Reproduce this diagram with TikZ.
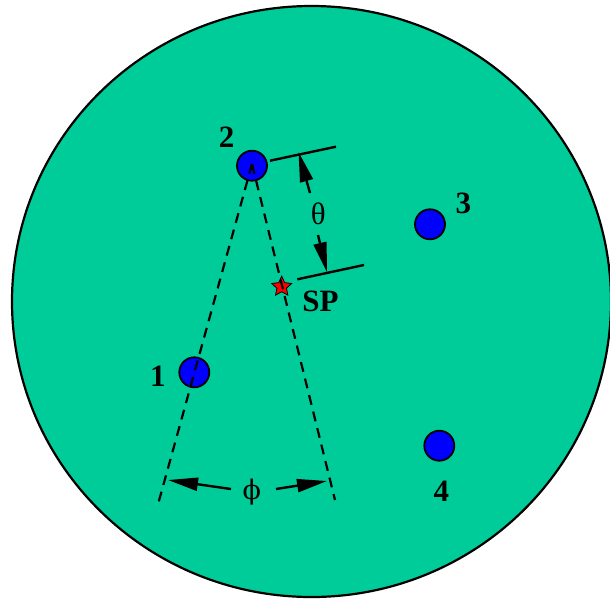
\documentclass[tikz,border=0pt]{standalone}
\usepackage{fontspec}
\setmainfont{Liberation Serif}
\newfontfamily\dvserif{DejaVu Serif}
\usetikzlibrary{arrows.meta,shapes.geometric}
\definecolor{sea}{HTML}{00CC99}
\begin{document}
\begin{tikzpicture}[x=1pt,y=-1pt,
  site/.style={circle,draw=black,fill=blue,minimum size=30pt,inner sep=0pt,line width=1.8pt},
  lbl/.style={inner sep=0pt,font=\fontsize{31}{31}\selectfont\bfseries},
  greek/.style={inner sep=0pt,font=\fontsize{31}{31}\selectfont},
  dashline/.style={line width=2.2pt,dash pattern=on 10pt off 7pt},
  dimline/.style={line width=2.4pt},
  dimarrow/.style={line width=2.4pt,-{Triangle[length=30pt,width=13pt]}}]
\useasboundingbox (0,0) rectangle (610,598);
\clip (0,0) rectangle (610,598);
\filldraw[fill=sea,draw=black,line width=2.2pt] (311.5,301.5) ellipse [x radius=299.5pt, y radius=295.5pt];
% sites
\node[site] (n1) at (194.3,372.3) {};
\node[site] (n2) at (252,165.7) {};
\node[site] (n3) at (430,224.3) {};
\node[site] (n4) at (439.3,445.7) {};
\node[star,star points=5,star point ratio=2.1,fill=red,draw=black,line width=0.8pt,minimum size=21pt,inner sep=0pt] (sp) at (281.7,286.7) {};
% labels
\node[lbl] (l1) at (157.8,376.3) {1};
\node[lbl] (l2) at (226.7,137.3) {2};
\node[lbl] (l3) at (463.3,203) {3};
\node[lbl] (l4) at (441.3,490.8) {4};
\node[lbl] (lsp) at (320.5,301.2) {SP};
% dashed cone
\coordinate (apex) at (252,164);
\coordinate (lend) at (157,508);
\coordinate (rend) at (335,500);
\draw[dashline] (apex) -- (lend);
\draw[dashline] (apex) -- (rend);
% theta dimension
\coordinate (ua) at (270,160.7);
\coordinate (ub) at (336,146.7);
\coordinate (la) at (297.3,279.3);
\coordinate (lb) at (364,265);
\draw[dimline] (ua) -- (ub);
\draw[dimline] (la) -- (lb);
\coordinate (utail) at (310,193);
\coordinate (utip) at (298.5,152);
\coordinate (ltail) at (318,235);
\coordinate (ltip) at (327,272.3);
\draw[dimarrow] (utail) -- (utip);
\draw[dimarrow] (ltail) -- (ltip);
\node[greek] (theta) at (318.3,213.7) {θ};
% phi dimension
\coordinate (pltail) at (231,489);
\coordinate (pltip) at (168,480);
\coordinate (prtail) at (276,489);
\coordinate (prtip) at (327,481);
\draw[dimarrow] (pltail) -- (pltip);
\draw[dimarrow] (prtail) -- (prtip);
\node[inner sep=0pt,font=\dvserif\fontsize{27}{27}\selectfont] (phi) at (251.7,492.5) {ϕ};
\end{tikzpicture}
\end{document}
